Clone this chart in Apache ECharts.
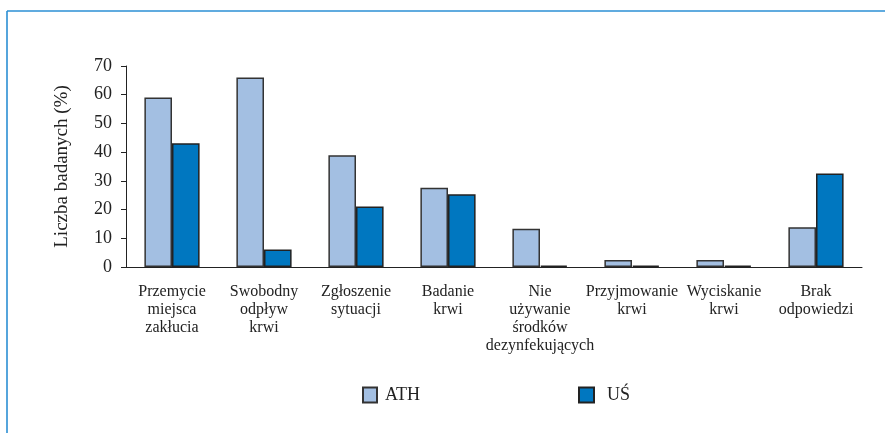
<!DOCTYPE html>
<html><head><meta charset="utf-8">
<script src="https://cdn.jsdelivr.net/npm/echarts@6/dist/echarts.min.js"></script>
<style>html,body{margin:0;padding:0;background:#fff}#c{width:885px;height:433px}</style>
</head><body><div id="c"></div>
<script>
var categories = ['Przemycie\nmiejsca\nzakłucia','Swobodny\nodpływ\nkrwi','Zgłoszenie\nsytuacji','Badanie\nkrwi','Nie\nużywanie\nśrodków\ndezynfekujących','Przyjmowanie\nkrwi','Wyciskanie\nkrwi','Brak\nodpowiedzi'];
var ath = [59, 66, 38.9, 27.6, 13.3, 2.4, 2.4, 13.8];
var us = [43.1, 6.1, 21.1, 25.3, 0.5, 0.5, 0.5, 32.6];
var yTicks = [0,10,20,30,40,50,60,70];
var serif = '"Liberation Serif","DejaVu Serif",serif';
var chart = echarts.init(document.getElementById('c'));
chart.setOption({
  animation:false,
  graphic:[
    {type:'line',shape:{x1:7,y1:11,x2:885,y2:11},style:{stroke:'#2b8fd4',lineWidth:1.6}},
    {type:'line',shape:{x1:7,y1:11,x2:7,y2:433},style:{stroke:'#2b8fd4',lineWidth:1.6}}
  ],
  grid:{left:126,right:23,top:66,bottom:166,containLabel:false},
  legend:[
    {data:['ATH'],left:362,top:386,padding:0,itemWidth:14,itemHeight:15,icon:'rect',
     textStyle:{fontFamily:serif,fontSize:18,color:'#222',padding:[0,0,0,3]}},
    {data:['UŚ'],left:578,top:386,padding:0,itemWidth:15,itemHeight:15,icon:'rect',
     textStyle:{fontFamily:serif,fontSize:18,color:'#222',padding:[0,0,0,8]}}
  ],
  xAxis:{
    type:'category',data:categories,
    axisLine:{lineStyle:{color:'#222',width:1}},
    axisTick:{lineStyle:{color:'#222'},length:5},
    axisLabel:{fontFamily:serif,fontSize:16,color:'#222',lineHeight:18,margin:16,interval:0}
  },
  yAxis:{
    type:'value',min:0,max:70,interval:10,
    name:'Liczba badanych (%)',nameLocation:'middle',nameGap:54,nameRotate:90,
    nameTextStyle:{fontFamily:serif,fontSize:19,color:'#222'},
    axisLine:{show:true,lineStyle:{color:'#222',width:1}},
    axisTick:{show:true,lineStyle:{color:'#222'},length:5},
    splitLine:{show:false},
    axisLabel:{fontFamily:serif,fontSize:18,color:'#222',margin:14,
      formatter:function(v){return yTicks.indexOf(v)>=0?String(v):'';}}
  },
  series:[
    {name:'ATH',type:'bar',data:ath,barGap:'0%',barCategoryGap:'40%',
     itemStyle:{color:'#a3bfe2',borderColor:'#333',borderWidth:1.5}},
    {name:'UŚ',type:'bar',data:us,
     itemStyle:{color:'#0077c0',borderColor:'#222',borderWidth:1.5}}
  ]
});
</script></body></html>
